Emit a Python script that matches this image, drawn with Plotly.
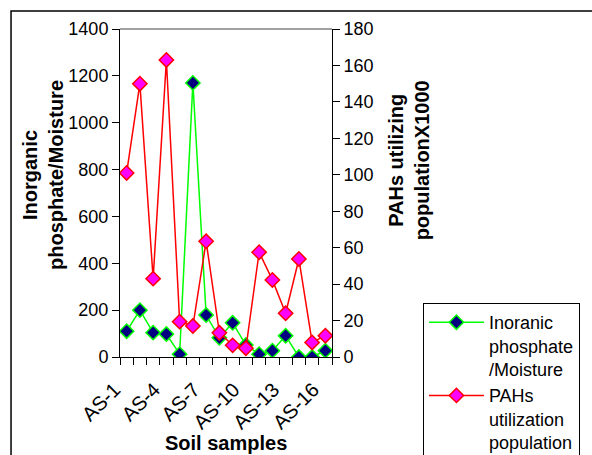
import plotly.graph_objects as go

samples = [f"AS-{i}" for i in range(1, 17)]
tick_labels = [s if (i % 3 == 0) else "" for i, s in enumerate(samples)]
phosphate = [110, 200, 104, 98, 12, 1170, 179, 82, 146, 51, 12, 27, 91, 0, 0, 27]
pahs = [101, 150, 43, 163, 19.4, 17, 63.5, 13.3, 6.4, 4.8, 57.5, 42.3, 24, 53.8, 8, 11.7]

FONT = "Liberation Sans, Arial, sans-serif"

fig = go.Figure()
fig.add_trace(go.Scatter(
    x=samples, y=phosphate, name="Inoranic<br>phosphate<br>/Moisture",
    mode="lines+markers",
    line=dict(color="#00FF00", width=1.5),
    marker=dict(symbol="diamond", size=11, color="#000080",
                line=dict(color="#00FF00", width=1.5)),
    yaxis="y"))
fig.add_trace(go.Scatter(
    x=samples, y=pahs, name="PAHs<br>utilization<br>population",
    mode="lines+markers",
    line=dict(color="#FF0000", width=1.5),
    marker=dict(symbol="diamond", size=11, color="#FF00FF",
                line=dict(color="#FF0000", width=1.5)),
    yaxis="y2"))

fig.update_layout(
    width=592, height=455,
    margin=dict(l=120, r=260, t=29, b=98, autoexpand=False),
    paper_bgcolor="white", plot_bgcolor="white",
    font=dict(family=FONT, size=18, color="black"),
    showlegend=True,
    legend=dict(x=1.429, y=0.1646, xanchor="left", yanchor="top",
                bordercolor="black", borderwidth=1, bgcolor="white",
                font=dict(size=18), tracegroupgap=0, itemwidth=55,
                valign="top"),
    xaxis=dict(type="category", tickmode="array", tickvals=samples,
               ticktext=tick_labels, tickangle=-45, tickson="boundaries",
               ticks="outside", ticklen=7, tickcolor="black",
               showline=True, linecolor="black", linewidth=1,
               showgrid=False, zeroline=False,
               range=[-0.5, len(samples) - 0.5],
               ticklabelstandoff=12, ticklabelshift=-12,
               tickfont=dict(size=20)),
    yaxis=dict(range=[0, 1400], dtick=200, ticks="outside", ticklen=7,
               tickcolor="black", showline=True, linecolor="black",
               linewidth=1, showgrid=False, zeroline=False,
               tickfont=dict(size=18)),
    yaxis2=dict(range=[0, 180], dtick=20, overlaying="y", side="right",
                ticks="outside", ticklen=7, tickcolor="black",
                showline=True, linecolor="black", linewidth=1,
                showgrid=False, zeroline=False, tickfont=dict(size=18)),
    yaxis3=dict(range=[0, 180], dtick=20, overlaying="y", side="right",
                anchor="x", ticks="inside", ticklen=7, tickcolor="black",
                showticklabels=False, showline=False, showgrid=False,
                zeroline=False),
)

fig.add_annotation(text="<b>Inorganic<br>phosphate/Moisture</b>",
                   xref="paper", yref="paper", x=-0.363, y=0.555,
                   xanchor="center", yanchor="middle", textangle=-90,
                   showarrow=False, font=dict(size=20))
fig.add_annotation(text="<b>PAHs utilizing<br>populationX1000</b>",
                   xref="paper", yref="paper", x=1.364, y=0.6,
                   xanchor="center", yanchor="middle", textangle=-90,
                   showarrow=False, font=dict(size=20))
fig.add_annotation(text="<b>Soil samples</b>",
                   xref="paper", yref="paper", x=0.5, y=-0.262,
                   xanchor="center", yanchor="middle",
                   showarrow=False, font=dict(size=20))

# outer chart border (top and left visible) and plot-area top border
fig.add_shape(type="rect", xref="paper", yref="paper",
              x0=-0.514, x1=2.4, y0=-0.5, y1=1.055,
              line=dict(color="black", width=1.5), fillcolor="rgba(0,0,0,0)",
              layer="below")
fig.add_shape(type="line", xref="paper", yref="paper",
              x0=0, x1=1, y0=1, y1=1, line=dict(color="#808080", width=1.5))

fig.write_html("out.html")
